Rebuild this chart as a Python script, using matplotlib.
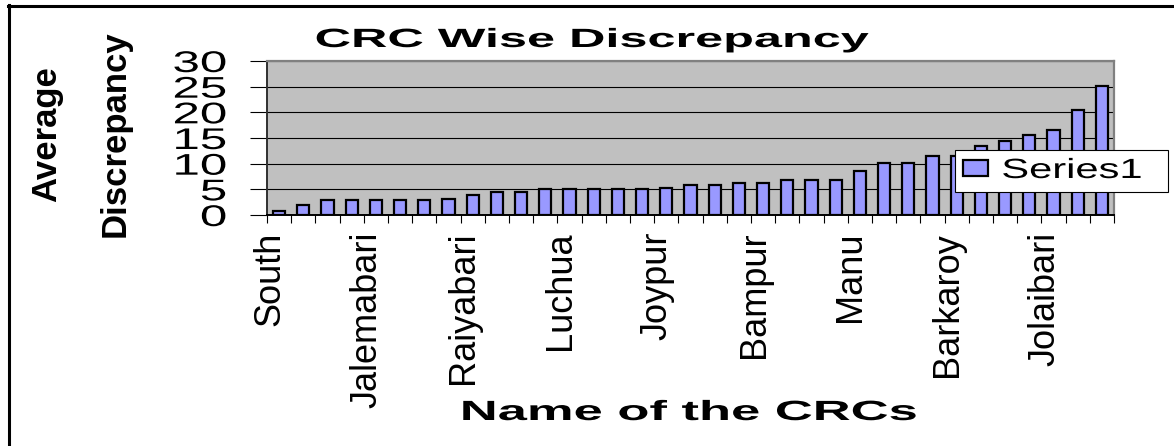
import numpy as np
import matplotlib
matplotlib.use("Agg")
import matplotlib.pyplot as plt
from matplotlib.patheffects import AbstractPathEffect
from matplotlib.transforms import Affine2D, ScaledTranslation
from matplotlib.lines import Line2D

# ---------------- data ----------------
discrepancy = [0.8, 1.9, 2.9, 2.9, 2.9, 2.9, 2.9, 3.2, 3.8, 4.5, 4.5,
               5.0, 5.0, 5.0, 5.0, 5.0, 5.2, 5.9, 5.9, 6.2, 6.2,
               6.9, 6.9, 6.9, 8.5, 10.2, 10.2, 11.5, 11.5, 13.5, 14.5,
               15.5, 16.5, 20.5, 25.2]
label_positions = [0, 4, 8, 12, 16, 20, 24, 28, 32]
crc_labels = ["South", "Jalemabari", "Raiyabari", "Luchua", "Joypur",
              "Bampur", "Manu", "Barkaroy", "Jolaibari"]
y_ticks = [0, 5, 10, 15, 20, 25, 30]
series_name = "Series1"
chart_title = "CRC Wise Discrepancy"
x_title = "Name of the CRCs"
y_title = "Average\nDiscrepancy"


class HStretch(AbstractPathEffect):
    """Draw text horizontally stretched (as in the original stretched chart image)."""

    def __init__(self, sx, anchor="center"):
        super().__init__()
        self.sx = sx
        self.anchor = anchor

    def draw_path(self, renderer, gc, tpath, affine, rgbFace=None):
        ext = tpath.get_extents(affine)
        if self.anchor == "right":
            cx = ext.x1
        elif self.anchor == "left":
            cx = ext.x0
        else:
            cx = 0.5 * (ext.x0 + ext.x1)
        aff = affine + Affine2D().translate(-cx, 0).scale(self.sx, 1.0).translate(cx, 0)
        renderer.draw_path(gc, tpath, aff, rgbFace)


W, H = 1174, 446
fig = plt.figure(figsize=(W / 100, H / 100), dpi=100)
fig.patch.set_facecolor("white")

ax = fig.add_axes([267 / W, 1 - 215 / H, (1114 - 267) / W, (215 - 61) / H])
ax.set_facecolor("#C0C0C0")

x = np.arange(len(discrepancy))
ax.bar(x, discrepancy, width=0.5, color="#9999FF", edgecolor="black",
       linewidth=1.6, label=series_name, zorder=3)

ax.set_xlim(-0.5, len(discrepancy) - 0.5)
ax.set_ylim(0, 30)

# grid
ax.set_yticks(y_ticks)
ax.set_yticklabels([str(v) for v in y_ticks])
ax.yaxis.grid(True, color="black", linewidth=0.8)
ax.set_axisbelow(True)

# spines
ax.spines["top"].set_color("#808080")
ax.spines["right"].set_color("#808080")
ax.spines["top"].set_linewidth(1.6)
ax.spines["right"].set_linewidth(1.6)
ax.spines["left"].set_color("#303030")
ax.spines["left"].set_linewidth(1.4)
ax.spines["bottom"].set_color("black")
ax.spines["bottom"].set_linewidth(1.4)

# y ticks
ax.tick_params(axis="y", length=12.2, width=0.8, pad=17, labelsize=21.5,
               direction="out", color="black")
for lbl in ax.get_yticklabels():
    lbl.set_fontfamily("Liberation Sans")
    lbl.set_path_effects([HStretch(1.65, "right")])

# x ticks: category boundaries as minor ticks, labels every 4th category
ax.set_xticks(np.arange(-0.5, len(discrepancy), 1.0), minor=True)
ax.set_xticks(label_positions)
ax.set_xticklabels(crc_labels, rotation=90, fontsize=26,
                   fontfamily="Liberation Sans", va="top", ha="center")
ax.tick_params(axis="x", which="major", length=0, pad=12)
ax.tick_params(axis="x", which="minor", length=5.8, width=0.8,
               direction="out", color="black")
ax.tick_params(axis="y", which="minor", length=0)
shift = ScaledTranslation(-0.09, 0, fig.dpi_scale_trans)
for lbl in ax.xaxis.get_majorticklabels():
    lbl.set_transform(lbl.get_transform() + shift)

# titles
fig.text(592 / W, 1 - 47 / H, chart_title, ha="center", va="baseline",
         fontsize=19, fontweight="bold", fontfamily="Liberation Sans",
         path_effects=[HStretch(1.91)])
fig.text(689 / W, 1 - 420 / H, x_title, ha="center", va="baseline",
         fontsize=20, fontweight="bold", fontfamily="Liberation Sans",
         path_effects=[HStretch(1.89)])
fig.text(81 / W, 1 - 134 / H, y_title, rotation=90, ha="center", va="center",
         multialignment="center", fontsize=25, fontweight="bold",
         fontfamily="Liberation Sans", linespacing=2.35)

# legend
leg = ax.legend(loc="center", mode="expand",
                bbox_to_anchor=(955 / W, 1 - 192 / H, 213 / W, 42 / H),
                bbox_transform=fig.transFigure,
                fancybox=False, framealpha=1, edgecolor="black",
                borderpad=0.29, handlelength=0.9, handleheight=0.54,
                handletextpad=0.5, borderaxespad=0,
                prop={"family": "Liberation Sans", "size": 20})
leg.get_frame().set_linewidth(0.8)
leg.set_zorder(10)
for t in leg.get_texts():
    t.set_path_effects([HStretch(1.5, "left")])

# outer chart border (left and top only visible)
fig.add_artist(Line2D([9 / W, 9 / W], [0, 1 - 5 / H], transform=fig.transFigure,
                      color="black", linewidth=2.2))
fig.add_artist(Line2D([8 / W, 1], [1 - 6 / H, 1 - 6 / H], transform=fig.transFigure,
                      color="black", linewidth=2.2))

fig.savefig("out.png", dpi=100)
